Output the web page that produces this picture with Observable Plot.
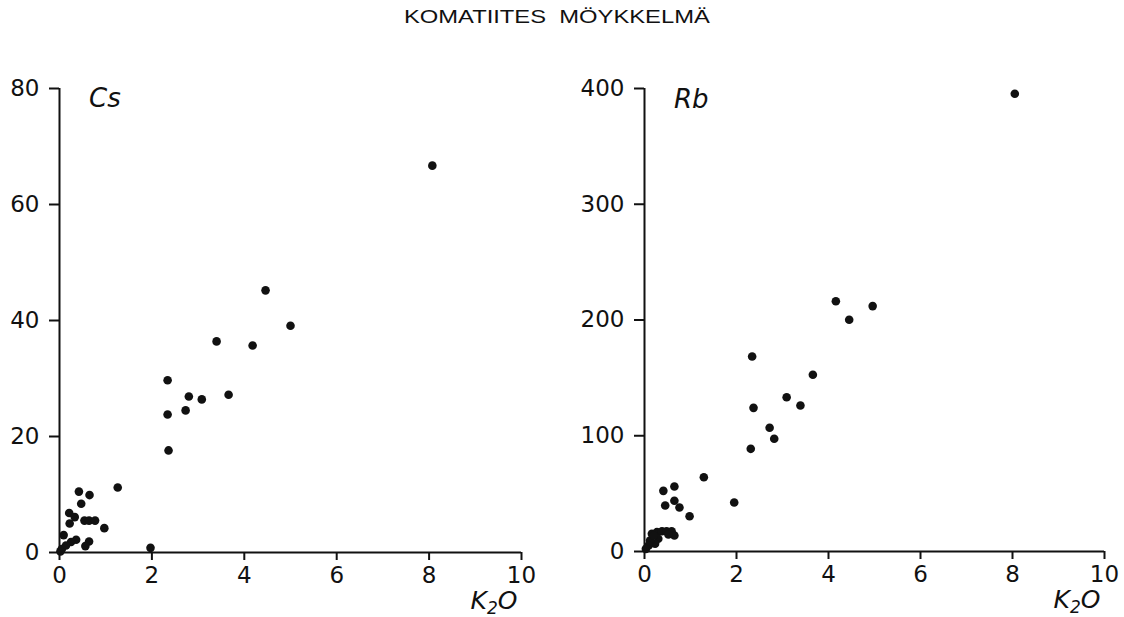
<!DOCTYPE html>
<html>
<head>
<meta charset="utf-8">
<script src="https://cdn.jsdelivr.net/npm/d3@7"></script>
<script src="https://cdn.jsdelivr.net/npm/@observablehq/plot@0.6"></script>
<style>
  html, body { margin: 0; padding: 0; background: #fff; }
  #wrap { position: relative; width: 1124px; height: 617px; overflow: hidden; }
  #title { position: absolute; left: 0; top: 7px; width: 1124px; text-align: center;
           font-family: "Liberation Sans", Arial, sans-serif; font-size: 18px; color: #111; }
  #title span { display: inline-block; transform: scaleX(1.32); transform-origin: center; margin-left: -10px; }
  #plots { position: absolute; left: 0; top: 0; display: flex; }
  #plots svg [aria-label$="tick label"] { font-size: 23px; font-family: "DejaVu Sans"; }
</style>
</head>
<body>
<div id="wrap">
  <div id="plots"></div>
  <div id="title"><span>KOMATIITES&nbsp;&nbsp;MÖYKKELMÄ</span></div>
</div>
<script>
// ---- data ----
const xLabel = "K2O";
const xTicks = [0, 2, 4, 6, 8, 10];

const csLabel = "Cs";
const csTicks = [0, 20, 40, 60, 80];
const csK2O = [8.07, 4.46, 5.0, 3.40, 4.18, 2.34, 2.80, 3.08, 3.66, 2.73, 2.34, 2.36, 1.97, 1.26,
               0.42, 0.65, 0.47, 0.21, 0.33, 0.22, 0.54, 0.64, 0.77, 0.97, 0.09, 0.36, 0.25, 0.14,
               0.05, 0.64, 0.56, 0.02];
const csVal = [66.7, 45.2, 39.1, 36.4, 35.7, 29.7, 26.9, 26.4, 27.2, 24.5, 23.8, 17.6, 0.8, 11.2,
               10.5, 9.9, 8.4, 6.8, 6.1, 5.0, 5.5, 5.5, 5.5, 4.2, 3.0, 2.2, 1.8, 1.2,
               0.6, 1.9, 1.1, 0.2];

const rbLabel = "Rb";
const rbTicks = [0, 100, 200, 300, 400];
const rbK2O = [8.05, 4.16, 4.96, 4.45, 2.34, 3.66, 3.09, 3.39, 2.37, 2.72, 2.82, 2.31, 1.29, 1.95,
               0.98, 0.41, 0.65, 0.45, 0.65, 0.76,
               0.16, 0.27, 0.38, 0.48, 0.59, 0.65, 0.30, 0.23, 0.12, 0.09, 0.03, 0.20, 0.52];
const rbVal = [395.4, 216.2, 212, 200.2, 168.5, 152.7, 133.3, 126.1, 124.1, 106.9, 97.4, 88.7, 64.2, 42.3,
               30.5, 52.4, 56.2, 39.7, 43.8, 38,
               15.3, 16.7, 17.5, 17.5, 17.5, 13.8, 11, 6.7, 9.5, 5.2, 2.3, 13.8, 14.7];

function panel({xs, ys, yMax, yTicks, label, labelY, marginLeft, marginRight, marginBottom}) {
  const data = xs.map((x, i) => ({x, y: ys[i]}));
  const svg = Plot.plot({
    width: 562,
    height: 617,
    marginTop: 88,
    marginBottom,
    marginLeft,
    marginRight,
    style: {fontFamily: "DejaVu Sans", fontSize: "22px", color: "#111", background: "white", overflow: "visible"},
    x: {domain: [0, 10], ticks: xTicks},
    y: {domain: [0, yMax], ticks: yTicks},
    marks: [
      Plot.axisX({ticks: xTicks, tickSize: 8, tickPadding: 6, tickFormat: d => String(d), label: null, strokeWidth: 2}),
      Plot.axisY({ticks: yTicks, tickSize: 10, tickPadding: 10, tickFormat: d => String(d), label: null, strokeWidth: 2}),
      Plot.ruleY([0], {x1: 0, x2: 10, strokeWidth: 2, stroke: "#111"}),
      Plot.ruleX([0], {y1: 0, y2: yMax, strokeWidth: 2, stroke: "#111"}),
      Plot.dot(data, {x: "x", y: "y", r: 4.3, fill: "#111", stroke: "none"}),
      Plot.text([label], {x: 0.64, y: labelY, text: d => d, textAnchor: "start", fontStyle: "italic", fontSize: 26, fill: "#111"}),
      Plot.text([xLabel], {frameAnchor: "bottom-right", text: d => d, dy: 56, dx: -4, fontStyle: "italic", fontSize: 25, fill: "#111", textAnchor: "end"})
    ]
  });
  // render the "2" of K2O as a subscript
  svg.querySelectorAll("text").forEach(t => {
    if (t.textContent === xLabel) {
      t.textContent = "";
      const ns = "http://www.w3.org/2000/svg";
      const a = document.createElementNS(ns, "tspan"); a.textContent = "K";
      const b = document.createElementNS(ns, "tspan"); b.textContent = "2";
      b.setAttribute("font-size", "17"); b.setAttribute("dy", "5");
      const c = document.createElementNS(ns, "tspan"); c.textContent = "O"; c.setAttribute("dy", "-5");
      t.append(a, b, c);
    }
  });
  return svg;
}

const plots = document.getElementById("plots");
plots.append(panel({xs: csK2O, ys: csVal, yMax: 80, yTicks: csTicks, label: csLabel, labelY: 78.3,
                    marginLeft: 59, marginRight: 41, marginBottom: 65}));
plots.append(panel({xs: rbK2O, ys: rbVal, yMax: 400, yTicks: rbTicks, label: rbLabel, labelY: 390,
                    marginLeft: 82, marginRight: 20, marginBottom: 66}));
</script>
</body>
</html>
